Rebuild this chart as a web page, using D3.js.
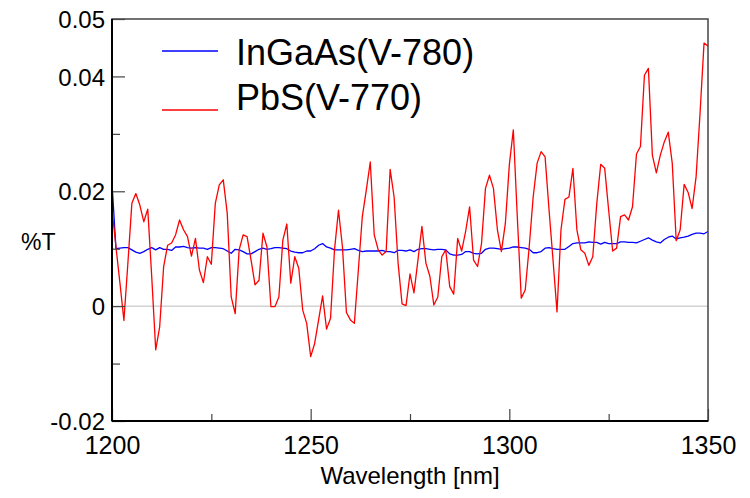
<!DOCTYPE html>
<html>
<head>
<meta charset="utf-8">
<script src="https://cdn.jsdelivr.net/npm/d3@7"></script>
<style>
  html, body { margin: 0; padding: 0; background: #fff; }
  svg { display: block; font-family: "Liberation Sans", Arial, sans-serif; }
</style>
</head>
<body>
<svg id="chart" width="750" height="498"></svg>
<script>
// ---- data ----
const seriesNames = ["InGaAs(V-780)", "PbS(V-770)"];
const seriesColors = ["#0000ff", "#ff0000"];
const wavelengths = d3.range(1200, 1351, 1); // sampling grid, nm

const ingaas = [
  0.0214,0.0100,0.0101,0.0102,0.0102,0.0098,0.0094,0.0092,0.0095,0.0099,
  0.0102,0.0098,0.0102,0.0099,0.0099,0.0097,0.0103,0.0103,0.0104,0.0102,
  0.0101,0.0102,0.0101,0.0101,0.0099,0.0102,0.0102,0.0101,0.0100,0.0096,
  0.0092,0.0099,0.0098,0.0095,0.0091,0.0091,0.0095,0.0099,0.0101,0.0099,
  0.0100,0.0102,0.0102,0.0101,0.0100,0.0096,0.0094,0.0093,0.0093,0.0096,
  0.0096,0.0100,0.0106,0.0109,0.0103,0.0101,0.0098,0.0098,0.0098,0.0098,
  0.0099,0.0100,0.0097,0.0095,0.0096,0.0096,0.0096,0.0096,0.0097,0.0095,
  0.0095,0.0093,0.0097,0.0097,0.0096,0.0098,0.0095,0.0099,0.0100,0.0100,
  0.0099,0.0098,0.0099,0.0099,0.0098,0.0091,0.0089,0.0089,0.0090,0.0095,
  0.0095,0.0092,0.0091,0.0092,0.0099,0.0101,0.0101,0.0100,0.0099,0.0100,
  0.0101,0.0103,0.0103,0.0102,0.0101,0.0099,0.0093,0.0093,0.0095,0.0101,
  0.0102,0.0100,0.0099,0.0099,0.0099,0.0104,0.0109,0.0110,0.0110,0.0110,
  0.0112,0.0111,0.0111,0.0108,0.0111,0.0109,0.0109,0.0109,0.0112,0.0112,
  0.0111,0.0111,0.0110,0.0113,0.0116,0.0119,0.0115,0.0112,0.0110,0.0116,
  0.0120,0.0122,0.0117,0.0119,0.0120,0.0122,0.0125,0.0127,0.0127,0.0126,
  0.0130
];

const pbs = [
  0.0169,0.0103,0.0040,-0.0025,0.0075,0.0179,0.0196,0.0176,0.0147,0.0169,
  0.0051,-0.0076,-0.0036,0.0069,0.0106,0.0110,0.0124,0.0150,0.0133,0.0121,
  0.0087,0.0118,0.0063,0.0041,0.0086,0.0073,0.0179,0.0211,0.0220,0.0162,
  0.0016,-0.0013,0.0098,0.0124,0.0121,0.0080,0.0037,0.0045,0.0127,0.0103,
  -0.0001,-0.0001,0.0016,0.0115,0.0143,0.0040,0.0086,0.0066,-0.0007,-0.0030,
  -0.0088,-0.0065,-0.0024,0.0018,-0.0040,-0.0021,0.0098,0.0167,0.0103,-0.0011,
  -0.0024,-0.0030,0.0063,0.0156,0.0202,0.0251,0.0124,0.0098,0.0089,0.0095,
  0.0238,0.0190,0.0075,0.0004,0.0001,0.0056,0.0023,0.0080,0.0139,0.0075,
  0.0052,0.0002,0.0016,0.0086,0.0098,0.0034,0.0021,0.0118,0.0096,0.0130,
  0.0173,0.0080,0.0069,0.0109,0.0205,0.0228,0.0205,0.0133,0.0095,0.0144,
  0.0246,0.0307,0.0156,0.0014,0.0028,0.0103,0.0190,0.0249,0.0269,0.0260,
  0.0167,0.0080,-0.0010,0.0133,0.0186,0.0190,0.0240,0.0133,0.0098,0.0092,
  0.0071,0.0086,0.0178,0.0247,0.0240,0.0167,0.0096,0.0101,0.0156,0.0159,
  0.0150,0.0173,0.0265,0.0278,0.0402,0.0414,0.0263,0.0232,0.0263,0.0286,
  0.0303,0.0249,0.0114,0.0133,0.0212,0.0198,0.0170,0.0225,0.0336,0.0458,
  0.0453
];

const xTickMajor = [1200, 1250, 1300, 1350];
const xTickMinor = [1225, 1275, 1325];
const yTickMajor = [-0.02, 0, 0.02, 0.04, 0.05];
const yTickLabels = ["-0.02", "0", "0.02", "0.04", "0.05"];
const yTickMinor = [-0.01, 0.01, 0.03];
const xTitle = "Wavelength [nm]";
const yTitle = "%T";

// ---- layout ----
const svg = d3.select("#chart");
const L = 112, R = 708, T = 19, B = 421;
const x = d3.scaleLinear().domain([1200, 1350]).range([L, R]);
const y = d3.scaleLinear().domain([-0.02, 0.05]).range([B, T]);

// zero reference line
svg.append("line")
  .attr("x1", L).attr("x2", R)
  .attr("y1", y(0)).attr("y2", y(0))
  .attr("stroke", "#bdbdbd").attr("stroke-width", 1);

// series
const line = d3.line().x((d, i) => x(wavelengths[i])).y(d => y(d));
[ingaas, pbs].forEach((s, i) => {
  svg.append("path")
    .datum(s)
    .attr("fill", "none")
    .attr("stroke", seriesColors[i])
    .attr("stroke-width", 1.3)
    .attr("stroke-linejoin", "round")
    .attr("d", line);
});

// frame
svg.append("rect")
  .attr("x", L).attr("y", T).attr("width", R - L).attr("height", B - T)
  .attr("fill", "none").attr("stroke", "#444").attr("stroke-width", 1.5);

// y axis
const yLabelMap = new Map(yTickMajor.map((v, i) => [v, yTickLabels[i]]));
const yAxis = svg.append("g").attr("transform", `translate(${L},0)`)
  .call(d3.axisLeft(y).tickValues(yTickMajor).tickSize(-13).tickPadding(7)
    .tickFormat(d => yLabelMap.get(d)));
const yAxisMinor = svg.append("g").attr("transform", `translate(${L},0)`)
  .call(d3.axisLeft(y).tickValues(yTickMinor).tickSize(-8).tickFormat(""));

// x axis
const xAxis = svg.append("g").attr("transform", `translate(0,${B})`)
  .call(d3.axisBottom(x).tickValues(xTickMajor).tickSize(-12).tickPadding(15)
    .tickFormat(d3.format("d")));
const xAxisMinor = svg.append("g").attr("transform", `translate(0,${B})`)
  .call(d3.axisBottom(x).tickValues(xTickMinor).tickSize(-7).tickFormat(""));

[yAxis, yAxisMinor, xAxis, xAxisMinor].forEach(g => {
  g.select(".domain").remove();
  g.selectAll(".tick line").attr("stroke", "#444").attr("stroke-width", 1.2);
  g.selectAll(".tick text").attr("fill", "#000").attr("font-size", 24)
    .attr("font-family", "'Liberation Sans', Arial, sans-serif");
});
yAxis.selectAll(".tick text").attr("dy", "0.36em");
xAxis.selectAll(".tick text").attr("dy", "0.71em").attr("font-size", 25);

// left and bottom axis lines (darker)
svg.append("line").attr("x1", L).attr("x2", L).attr("y1", T).attr("y2", B)
  .attr("stroke", "#000").attr("stroke-width", 2);
svg.append("line").attr("x1", L).attr("x2", R).attr("y1", B).attr("y2", B)
  .attr("stroke", "#000").attr("stroke-width", 2);

// titles
svg.append("text").attr("x", (L + R) / 2).attr("y", 484)
  .attr("text-anchor", "middle").attr("font-size", 24).attr("fill", "#000")
  .text(xTitle);
svg.append("text").attr("x", 21).attr("y", 250)
  .attr("font-size", 23).attr("fill", "#000")
  .text(yTitle);

// legend
const legendY = [[51, 65], [110, 110]];
seriesNames.forEach((name, i) => {
  svg.append("line")
    .attr("x1", 162).attr("x2", 218)
    .attr("y1", legendY[i][0]).attr("y2", legendY[i][0])
    .attr("stroke", seriesColors[i]).attr("stroke-width", 1.5);
  svg.append("text")
    .attr("x", 236).attr("y", legendY[i][1])
    .attr("font-size", 36).attr("fill", "#000")
    .text(name);
});
</script>
</body>
</html>
